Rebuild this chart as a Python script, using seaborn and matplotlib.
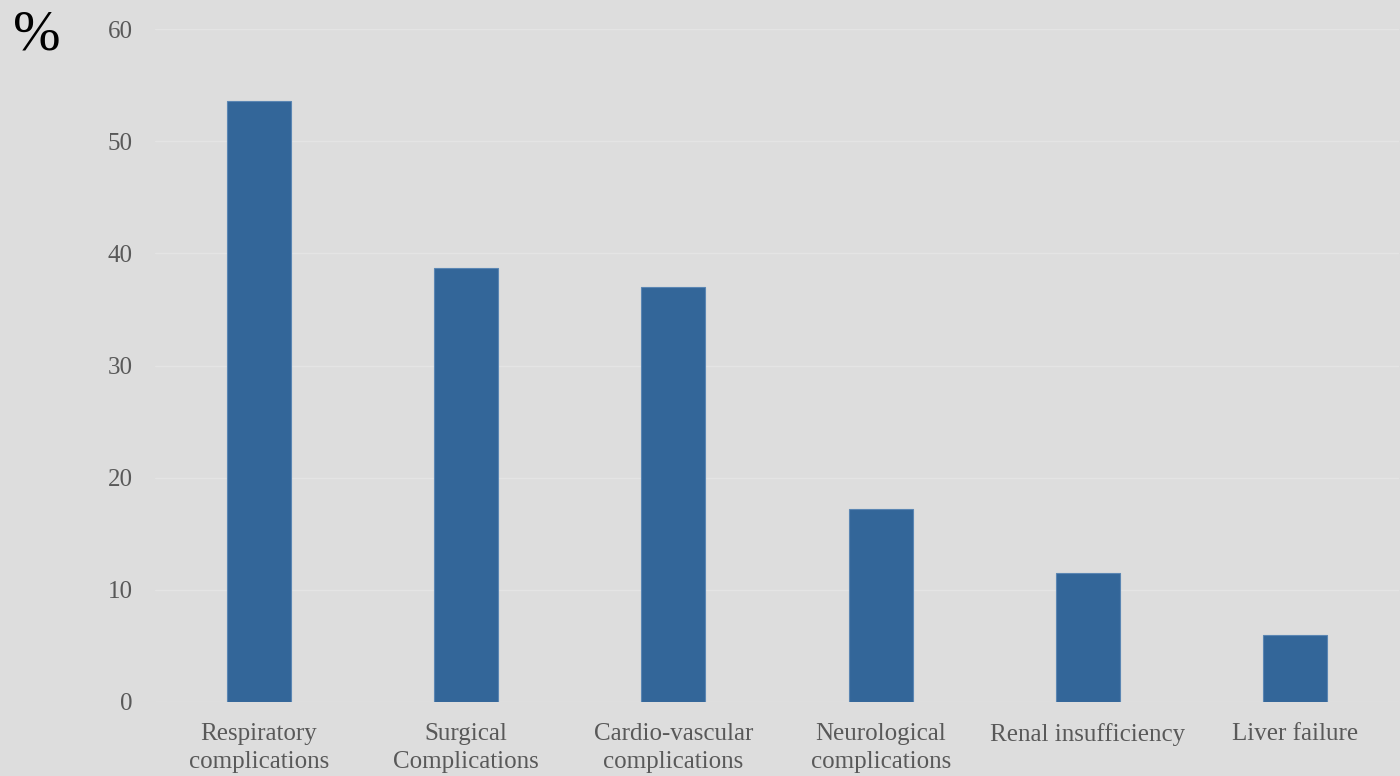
import matplotlib
matplotlib.use('Agg')
import matplotlib.pyplot as plt
import seaborn as sns
import pandas as pd

# ===================== 数据 =====================
categories = ['Respiratory\ncomplications', 'Surgical\nComplications',
              'Cardio-vascular\ncomplications', 'Neurological\ncomplications',
              'Renal insufficiency', 'Liver failure']
values = [53.6, 38.7, 37.0, 17.2, 11.5, 6.0]
y_ticks = [0, 10, 20, 30, 40, 50, 60]

df = pd.DataFrame({'category': categories, 'value': values})

# ===================== 样式 =====================
bg = '#dddddd'
sns.set_theme(style='white')
plt.rcParams['font.family'] = ['Liberation Serif', 'DejaVu Serif']

fig = plt.figure(figsize=(14, 7.76), dpi=100, facecolor=bg)
ax = fig.add_axes([155 / 1400, 74 / 776, 1244 / 1400, 673 / 776])
ax.set_facecolor(bg)

sns.barplot(data=df, x='category', y='value', color='#336699', width=0.31,
            edgecolor='#5b86b3', linewidth=0.8, saturation=1, ax=ax)

ax.set_xlim(-0.5, len(categories) - 0.5)
ax.set_ylim(0, 60)
ax.set_yticks(y_ticks)
ax.grid(axis='y', color='#e4e4e4', linewidth=1)
ax.set_axisbelow(True)
for s in ax.spines.values():
    s.set_visible(False)

ax.tick_params(axis='both', length=0, labelsize=18, labelcolor='#595959')
ax.tick_params(axis='y', pad=16)
ax.tick_params(axis='x', pad=15)
for lbl in ax.get_xticklabels():
    lbl.set_linespacing(1.35)
ax.set_xlabel('')
ax.set_ylabel('')

fig.text(37 / 1400, 1 - 36 / 776, '%', fontsize=41, color='black',
         ha='center', va='center')

fig.savefig('out.png', dpi=100, facecolor=bg)
